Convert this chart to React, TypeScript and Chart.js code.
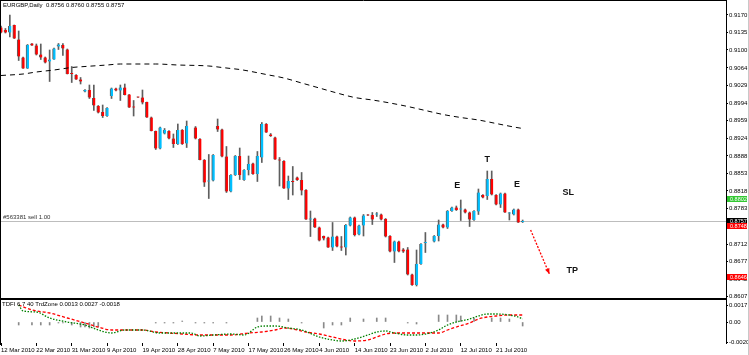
import React, { useEffect, useRef } from 'react';
import { Chart, registerables } from 'chart.js';
Chart.register(...registerables);

const SYMBOL = 'EURGBP,Daily';
const FONT = '"Liberation Sans", Arial, sans-serif';

// Daily candles, index 0 = 12 Mar 2010 (null = no bar drawn)
const OPEN = [
  0.9145, 0.9140, 0.9135, 0.9150, 0.9121, 0.9085, 0.9063, 0.9113, 0.9109, 0.9091,
  0.9085, 0.9077, 0.9081, 0.9107, 0.9110, 0.9101, 0.9053, 0.9050, 0.9041, 0.9017,
  0.9020, 0.9004, 0.8988, 0.8976, 0.8968, 0.9008, 0.9023, 0.9019, 0.9025, 0.9011,
  0.8986, 0.9006, 0.9005, 0.8996, 0.8965, 0.8938, 0.8903, 0.8933, 0.8938, 0.8923,
  0.8912, 0.8940, 0.8913, null, 0.8945, 0.8922, 0.8880, 0.8837, 0.8839, 0.8948,
  0.8941, 0.8887, 0.8817, 0.8850, 0.8888, 0.8840, 0.8860, 0.8873, 0.8852, 0.8885,
  0.8952, 0.8931, 0.8925, 0.8881, 0.8878, 0.8823, 0.8837, 0.8845, 0.8840, 0.8820,
  0.8761, 0.8763, 0.8745, 0.8728, 0.8725, 0.8705, 0.8727, 0.8706, 0.8705, 0.8749,
  0.8765, 0.8731, 0.8749, 0.8770, 0.8770, 0.8771, 0.8771, 0.8762, 0.8728, 0.8697,
  0.8717, 0.8701, 0.8701, 0.8651, 0.8630, 0.8672, 0.8714, null, 0.8717, 0.8728,
  0.8751, 0.8745, 0.8778, 0.8785, 0.8781, 0.8781, 0.8775, 0.8760, 0.8777, 0.8810,
  0.8808, 0.8842, 0.8810, 0.8791, 0.8813, 0.8773, 0.8771, 0.8781, 0.8756,
];
const HIGH = [
  0.9148, 0.9143, 0.9170, 0.9150, 0.9138, 0.9086, 0.9111, 0.9113, 0.9112, 0.9112,
  0.9086, 0.9100, 0.9104, 0.9113, 0.9113, 0.9102, 0.9067, 0.9051, 0.9045, 0.9021,
  0.9030, 0.9030, 0.8989, 0.8990, 0.8985, 0.9024, 0.9024, 0.9030, 0.9032, 0.9011,
  0.8999, 0.9006, 0.9020, 0.8996, 0.8966, 0.8938, 0.8946, 0.8943, 0.8939, 0.8932,
  0.8952, 0.8941, 0.8958, null, 0.8947, 0.8923, 0.8881, 0.8891, 0.8891, 0.8962,
  0.8942, 0.8907, 0.8851, 0.8889, 0.8904, 0.8861, 0.8888, 0.8874, 0.8897, 0.8955,
  0.8953, 0.8933, 0.8926, 0.8885, 0.8879, 0.8848, 0.8867, 0.8846, 0.8855, 0.8821,
  0.8778, 0.8764, 0.8746, 0.8728, 0.8726, 0.8755, 0.8728, 0.8727, 0.8751, 0.8766,
  0.8766, 0.8750, 0.8771, 0.8771, 0.8775, 0.8775, 0.8772, 0.8763, 0.8729, 0.8718,
  0.8718, 0.8703, 0.8705, 0.8652, 0.8700, 0.8713, 0.8735, null, 0.8729, 0.8760,
  0.8752, 0.8779, 0.8786, 0.8788, 0.8800, 0.8782, 0.8776, 0.8779, 0.8822, 0.8811,
  0.8858, 0.8858, 0.8811, 0.8814, 0.8814, 0.8775, 0.8782, 0.8782, 0.8760,
];
const LOW = [
  0.9134, 0.9134, 0.9126, 0.9123, 0.9079, 0.9063, 0.9063, 0.9109, 0.9090, 0.9081,
  0.9074, 0.9037, 0.9081, 0.9101, 0.9089, 0.9052, 0.9035, 0.9041, 0.9032, 0.9016,
  0.9003, 0.8979, 0.8974, 0.8965, 0.8967, 0.9003, 0.9018, 0.8999, 0.9010, 0.8985,
  0.8968, 0.9005, 0.8992, 0.8965, 0.8938, 0.8901, 0.8902, 0.8932, 0.8922, 0.8905,
  0.8911, 0.8911, 0.8905, null, 0.8922, 0.8880, 0.8827, 0.8803, 0.8838, 0.8937,
  0.8886, 0.8815, 0.8816, 0.8849, 0.8841, 0.8839, 0.8850, 0.8851, 0.8837, 0.8875,
  0.8935, 0.8927, 0.8881, 0.8828, 0.8823, 0.8801, 0.8810, 0.8839, 0.8810, 0.8761,
  0.8727, 0.8745, 0.8718, 0.8720, 0.8705, 0.8699, 0.8706, 0.8699, 0.8690, 0.8748,
  0.8728, 0.8730, 0.8728, 0.8769, 0.8751, 0.8767, 0.8760, 0.8726, 0.8696, 0.8675,
  0.8696, 0.8695, 0.8650, 0.8629, 0.8628, 0.8671, 0.8695, null, 0.8716, 0.8718,
  0.8744, 0.8743, 0.8777, 0.8779, 0.8759, 0.8774, 0.8747, 0.8759, 0.8771, 0.8804,
  0.8801, 0.8810, 0.8790, 0.8785, 0.8775, 0.8760, 0.8770, 0.8755, 0.8755,
];
const CLOSE = [
  0.9135, 0.9135, 0.9148, 0.9123, 0.9087, 0.9063, 0.9110, 0.9109, 0.9091, 0.9085,
  0.9075, 0.9081, 0.9103, 0.9111, 0.9103, 0.9052, 0.9052, 0.9041, 0.9037, 0.9020,
  0.9005, 0.8989, 0.8975, 0.8968, 0.8984, 0.9023, 0.9019, 0.9025, 0.9010, 0.8985,
  0.8985, 0.9005, 0.8995, 0.8965, 0.8938, 0.8903, 0.8945, 0.8940, 0.8923, 0.8912,
  0.8940, 0.8912, 0.8948, null, 0.8923, 0.8880, 0.8835, 0.8838, 0.8890, 0.8941,
  0.8887, 0.8817, 0.8850, 0.8888, 0.8850, 0.8860, 0.8872, 0.8852, 0.8888, 0.8952,
  0.8935, 0.8928, 0.8881, 0.8879, 0.8823, 0.8838, 0.8836, 0.8840, 0.8819, 0.8761,
  0.8763, 0.8745, 0.8719, 0.8723, 0.8705, 0.8727, 0.8707, 0.8705, 0.8750, 0.8765,
  0.8730, 0.8749, 0.8769, 0.8769, 0.8761, 0.8772, 0.8761, 0.8727, 0.8697, 0.8717,
  0.8697, 0.8697, 0.8651, 0.8630, 0.8672, 0.8712, 0.8715, null, 0.8728, 0.8751,
  0.8745, 0.8778, 0.8785, 0.8780, 0.8782, 0.8775, 0.8761, 0.8778, 0.8815, 0.8805,
  0.8842, 0.8811, 0.8791, 0.8813, 0.8775, 0.8774, 0.8781, 0.8755, 0.8757,
];

// Moving average (sampled points along the dashed curve)
const MA_IDX = [0, 5, 8, 12, 16, 19, 24, 27, 35, 40, 47, 50, 52, 54, 56, 60, 64, 68, 72, 76, 80, 84, 88, 92, 96, 100, 104, 108, 112, 116, 118];
const MA_VAL = [0.9049, 0.9052, 0.9056, 0.9060, 0.9065, 0.9067, 0.9070, 0.9072, 0.9072, 0.9070, 0.9068, 0.9065, 0.9063, 0.9061, 0.9058, 0.9051, 0.9044, 0.9034, 0.9024, 0.9014, 0.9005, 0.9000, 0.8994, 0.8987, 0.8979, 0.8971, 0.8965, 0.8960, 0.8953, 0.8946, 0.8943];

// Axis
const X_MIN = 0;
const X_MAX = 164;
const Y_MIN = 0.8604;
const Y_MAX = 0.9198;
const PRICE_TICKS = [0.9170, 0.9135, 0.9100, 0.9064, 0.9029, 0.8994, 0.8959, 0.8924, 0.8888, 0.8853, 0.8818, 0.8783, 0.8748, 0.8712, 0.8677, 0.8642, 0.8607];
const DATE_TICK_IDX = [0, 8, 16, 24, 32, 40, 48, 56, 64, 72, 80, 88, 96, 104, 112];
const DATE_LABELS = ['12 Mar 2010', '22 Mar 2010', '31 Mar 2010', '9 Apr 2010', '19 Apr 2010', '28 Apr 2010', '7 May 2010', '17 May 2010', '26 May 2010', '4 Jun 2010', '14 Jun 2010', '23 Jun 2010', '2 Jul 2010', '12 Jul 2010', '21 Jul 2010'];

// Price tags on right axis
const TAG_VALUES = [0.8802, 0.8757, 0.8748, 0.8646];
const TAG_COLORS = ['#32c832', '#000000', '#ff0000', '#ff0000'];
const LINE_LABEL = '#563381 sell 1.00';

// Annotations
const NOTE_TEXT = ['E', 'T', 'E', 'SL', 'TP'];
const NOTE_X = [103.2, 110, 116.7, 128.3, 129.2];
const NOTE_Y = [0.8828, 0.8880, 0.8830, 0.8814, 0.8658];
const ARROW_X = [119.8, 124.05];
const ARROW_Y = [0.8740, 0.8652];

// Indicator
const IND_TITLE = 'TDFI 6 7 40 TrdZone 0.0013 0.0027 -0.0018';
const IND_MIN = -0.0021;
const IND_MAX = 0.0022;
const IND_TICKS = [0.0017, 0, -0.0020];
const IND_TICK_LABELS = ['0.0017', '0.00', '-0.0020'];
const GREEN_IDX = [4, 5, 8, 11, 15, 19, 22, 25, 28, 30, 32, 36, 39, 43, 45, 48, 52, 55, 58, 60, 62, 65, 68, 72, 75, 77, 80, 83, 85, 87, 89, 92, 94, 97, 99, 101, 103, 106, 108, 110, 112, 115, 117, 118];
const GREEN_VAL = [0.0017, 0.0011, 0.0010, 0.0004, 0, -0.0003, -0.0008, -0.0011, -0.0008, -0.0008, -0.0008, -0.0011, -0.0011, -0.0011, -0.0014, -0.0013, -0.0012, -0.0013, -0.0005, -0.0004, -0.0004, -0.0006, -0.0008, -0.0015, -0.0018, -0.0019, -0.0017, -0.0013, -0.0010, -0.0009, -0.0011, -0.0013, -0.0013, -0.0011, -0.0008, -0.0003, 0, 0.0003, 0.0006, 0.0008, 0.0008, 0.0007, 0.0005, 0.0003];
const RED_IDX = [4, 7, 11, 15, 19, 22, 25, 28, 32, 35, 38, 41, 45, 49, 52, 56, 59, 62, 64, 66, 69, 72, 75, 78, 80, 83, 85, 87, 89, 92, 94, 97, 99, 101, 103, 106, 108, 110, 112, 115, 118];
const RED_VAL = [0.0017, 0.0012, 0.0009, 0.0004, -0.0001, -0.0005, -0.0008, -0.0008, -0.0008, -0.0010, -0.0011, -0.0012, -0.0013, -0.0013, -0.0013, -0.0011, -0.0010, -0.0008, -0.0006, -0.0007, -0.0010, -0.0012, -0.0015, -0.0018, -0.0019, -0.0018, -0.0015, -0.0012, -0.0011, -0.0011, -0.0011, -0.0011, -0.0011, -0.0008, -0.0005, -0.0001, 0.0003, 0.0005, 0.0006, 0.0007, 0.0007];
const HIST_IDX = [4, 7, 9, 11, 13, 14, 16, 18, 19, 20, 21, 22, 35, 37, 39, 41, 44, 46, 48, 51, 58, 59, 61, 63, 65, 68, 73, 75, 77, 79, 82, 85, 87, 92, 94, 99, 101, 103, 104, 107, 111, 113, 115, 118];
const HIST_VAL = [-0.0003, -0.0003, -0.0003, -0.0003, -0.0001, -0.0001, -0.0003, -0.0005, -0.0005, -0.0006, -0.0005, -0.0005, -0.0001, -0.0001, -0.0001, 0.0001, -0.0001, -0.0001, -0.0001, -0.0001, 0.0004, 0.0006, 0.0006, 0.0004, 0.0003, -0.0001, -0.0006, -0.0003, -0.0003, 0.0004, 0.0003, 0.0004, 0.0004, -0.0001, -0.0002, 0.0007, 0.0007, 0.0007, 0.0006, 0.0004, 0.0004, 0.0004, 0.0003, -0.0004];

const GREY = '#5e5e5e';
const BULL = '#00bfff';
const BEAR = '#ff0000';

function font(size: number, weight = '') {
  return `${weight ? weight + ' ' : ''}${size}px ${FONT}`;
}

function mainConfig(): any {
  const bodies: any[] = [];
  const wicks: any[] = [];
  const colors: string[] = [];
  OPEN.forEach((o, i) => {
    if (o === null) return;
    const c = CLOSE[i] as number;
    bodies.push({ x: i, y: [o, c] });
    wicks.push({ x: i, y: [LOW[i], HIGH[i]] });
    colors.push(c > o ? BULL : BEAR);
  });
  const last = OPEN.length - 1;
  const bid = CLOSE[last] as number;
  const title = `${SYMBOL}  ${(OPEN[last] as number).toFixed(4)} ${(HIGH[last] as number).toFixed(4)} ${(LOW[last] as number).toFixed(4)} ${bid.toFixed(4)}`;

  const decor = {
    id: 'mainDecor',
    beforeDatasetsDraw(chart: any) {
      const { ctx, chartArea, scales } = chart;
      const y = Math.round(scales.y.getPixelForValue(bid)) + 0.5;
      ctx.save();
      ctx.strokeStyle = '#bdbdbd';
      ctx.lineWidth = 1;
      ctx.beginPath();
      ctx.moveTo(chartArea.left, y);
      ctx.lineTo(chartArea.right, y);
      ctx.stroke();
      ctx.fillStyle = '#333';
      ctx.font = font(6);
      ctx.textBaseline = 'bottom';
      ctx.textAlign = 'left';
      ctx.fillText(LINE_LABEL, chartArea.left + 2, y - 1);
      ctx.restore();
    },
    afterDatasetsDraw(chart: any) {
      const { ctx, scales } = chart;
      const xs = scales.x;
      const ys = scales.y;
      ctx.save();
      ctx.fillStyle = '#111';
      ctx.font = font(9, 'bold');
      ctx.textAlign = 'center';
      ctx.textBaseline = 'middle';
      NOTE_TEXT.forEach((t, k) => {
        ctx.fillText(t, xs.getPixelForValue(NOTE_X[k]), ys.getPixelForValue(NOTE_Y[k]));
      });
      // arrow
      const x1 = xs.getPixelForValue(ARROW_X[0]);
      const y1 = ys.getPixelForValue(ARROW_Y[0]);
      const x2 = xs.getPixelForValue(ARROW_X[1]);
      const y2 = ys.getPixelForValue(ARROW_Y[1]);
      ctx.strokeStyle = '#ff0000';
      ctx.lineWidth = 1.3;
      ctx.setLineDash([2, 1.5]);
      ctx.beginPath();
      ctx.moveTo(x1, y1);
      ctx.lineTo(x2, y2);
      ctx.stroke();
      ctx.setLineDash([]);
      const ang = Math.atan2(y2 - y1, x2 - x1);
      const L = 6;
      ctx.fillStyle = '#ff0000';
      ctx.beginPath();
      ctx.moveTo(x2, y2);
      ctx.lineTo(x2 - L * Math.cos(ang - 0.4), y2 - L * Math.sin(ang - 0.4));
      ctx.lineTo(x2 - L * Math.cos(ang + 0.4), y2 - L * Math.sin(ang + 0.4));
      ctx.closePath();
      ctx.fill();
      ctx.restore();
    },
    afterDraw(chart: any) {
      const { ctx, chartArea, scales, width, height } = chart;
      ctx.save();
      ctx.strokeStyle = '#000';
      ctx.lineWidth = 1;
      ctx.beginPath();
      ctx.moveTo(0.5, 0);
      ctx.lineTo(0.5, chartArea.bottom);
      ctx.moveTo(0, 0.5);
      ctx.lineTo(chartArea.right + 1, 0.5);
      ctx.stroke();
      ctx.fillStyle = '#000';
      ctx.fillRect(0, chartArea.bottom, chartArea.right + 1, 2);
      ctx.strokeStyle = '#c8c8c8';
      ctx.beginPath();
      ctx.moveTo(width - 0.5, 0);
      ctx.lineTo(width - 0.5, height);
      ctx.stroke();
      // title
      ctx.fillStyle = '#000';
      ctx.font = font(6);
      ctx.textAlign = 'left';
      ctx.textBaseline = 'middle';
      ctx.fillText(title, 3, 5);
      // price tags
      TAG_VALUES.forEach((v, k) => {
        const y = Math.round(scales.y.getPixelForValue(v));
        ctx.fillStyle = TAG_COLORS[k];
        ctx.fillRect(chartArea.right + 1, y - 3, width - chartArea.right - 3, 6);
        ctx.fillStyle = '#fff';
        ctx.font = font(5.5);
        ctx.textBaseline = 'middle';
        ctx.fillText(v.toFixed(4), chartArea.right + 4, y + 0.5);
      });
      ctx.restore();
    },
  };

  return {
    type: 'bar',
    data: {
      datasets: [
        {
          type: 'line',
          label: 'MA',
          data: MA_IDX.map((x, k) => ({ x, y: MA_VAL[k] })),
          borderColor: '#000',
          borderWidth: 1,
          borderDash: [5, 4],
          pointRadius: 0,
          cubicInterpolationMode: 'monotone',
          order: 0,
        },
        {
          type: 'bar',
          label: 'body',
          data: bodies,
          backgroundColor: colors,
          borderColor: GREY,
          borderWidth: { left: 1, right: 0, top: 0, bottom: 0 },
          borderSkipped: false,
          barThickness: 3,
          minBarLength: 1,
          grouped: false,
          order: 1,
        },
        {
          type: 'bar',
          label: 'wick',
          data: wicks,
          backgroundColor: GREY,
          barThickness: 1,
          grouped: false,
          order: 2,
        },
      ],
    },
    options: {
      responsive: false,
      animation: false,
      devicePixelRatio: 1,
      layout: { padding: { left: 1, top: 1, right: 0, bottom: 2 } },
      plugins: { legend: { display: false }, tooltip: { enabled: false } },
      scales: {
        x: { type: 'linear', min: X_MIN, max: X_MAX, offset: false, grid: { offset: false }, display: false },
        y: {
          position: 'right',
          min: Y_MIN,
          max: Y_MAX,
          afterBuildTicks: (s: any) => {
            s.ticks = PRICE_TICKS.map((v) => ({ value: v }));
          },
          afterFit: (s: any) => {
            s.width = 23;
            s.paddingTop = 0;
            s.paddingBottom = 0;
          },
          ticks: {
            font: { size: 6, family: FONT },
            color: '#000',
            padding: 1,
            crossAlign: 'near',
            callback: (v: number) => v.toFixed(4),
          },
          grid: { drawOnChartArea: false, drawTicks: true, tickLength: 2, color: '#000' },
          border: { display: true, color: '#000', width: 1 },
        },
      },
    },
    plugins: [decor],
  };
}

function sparse(idx: number[], val: number[]) {
  return idx.map((x, k) => ({ x, y: val[k] }));
}

function indConfig(): any {
  const decor = {
    id: 'indDecor',
    afterDraw(chart: any) {
      const { ctx, chartArea, width, height } = chart;
      ctx.save();
      ctx.strokeStyle = '#000';
      ctx.lineWidth = 1;
      ctx.beginPath();
      ctx.moveTo(0.5, 0);
      ctx.lineTo(0.5, chartArea.bottom + 2);
      ctx.stroke();
      ctx.strokeStyle = '#c8c8c8';
      ctx.beginPath();
      ctx.moveTo(width - 0.5, 0);
      ctx.lineTo(width - 0.5, height);
      ctx.stroke();
      ctx.fillStyle = '#000';
      ctx.font = font(6);
      ctx.textAlign = 'left';
      ctx.textBaseline = 'middle';
      ctx.fillText(IND_TITLE, 2, 4.5);
      ctx.restore();
    },
  };
  return {
    type: 'bar',
    data: {
      datasets: [
        {
          type: 'line',
          label: 'green',
          data: sparse(GREEN_IDX, GREEN_VAL),
          borderColor: '#008000',
          borderWidth: 1.3,
          borderDash: [1.5, 1.5],
          pointRadius: 0,
          cubicInterpolationMode: 'monotone',
          order: 0,
        },
        {
          type: 'line',
          label: 'red',
          data: sparse(RED_IDX, RED_VAL),
          borderColor: '#ff0000',
          borderWidth: 1.3,
          borderDash: [3, 2],
          pointRadius: 0,
          cubicInterpolationMode: 'monotone',
          order: 1,
        },
        {
          type: 'bar',
          label: 'hist',
          data: sparse(HIST_IDX, HIST_VAL),
          backgroundColor: '#8a8a8a',
          barThickness: 1,
          grouped: false,
          order: 2,
        },
      ],
    },
    options: {
      responsive: false,
      animation: false,
      devicePixelRatio: 1,
      layout: { padding: { left: 1, top: 0, right: 0, bottom: 0 } },
      plugins: { legend: { display: false }, tooltip: { enabled: false } },
      scales: {
        x: {
          type: 'linear',
          min: X_MIN,
          max: X_MAX,
          offset: false,
          afterBuildTicks: (s: any) => {
            s.ticks = DATE_TICK_IDX.map((v) => ({ value: v }));
          },
          afterFit: (s: any) => {
            s.height = 12;
            s.paddingLeft = 0;
            s.paddingRight = 0;
          },
          ticks: {
            autoSkip: false,
            maxRotation: 0,
            align: 'start',
            padding: 1,
            font: { size: 6, family: FONT },
            color: '#000',
            callback: (_v: number, i: number) => DATE_LABELS[i],
          },
          grid: { offset: false, drawOnChartArea: false, drawTicks: true, tickLength: 3, color: '#000' },
          border: { display: false },
        },
        y: {
          position: 'right',
          min: IND_MIN,
          max: IND_MAX,
          afterBuildTicks: (s: any) => {
            s.ticks = IND_TICKS.map((v) => ({ value: v }));
          },
          afterFit: (s: any) => {
            s.width = 23;
            s.paddingTop = 0;
            s.paddingBottom = 0;
          },
          ticks: {
            font: { size: 6, family: FONT },
            color: '#000',
            padding: 1,
            crossAlign: 'near',
            callback: (_v: number, i: number) => IND_TICK_LABELS[i],
          },
          grid: { drawOnChartArea: false, drawTicks: true, tickLength: 2, color: '#000' },
          border: { display: true, color: '#000', width: 1 },
        },
      },
    },
    plugins: [decor],
  };
}

export default function App() {
  const mainRef = useRef<HTMLCanvasElement>(null);
  const indRef = useRef<HTMLCanvasElement>(null);
  useEffect(() => {
    document.body.style.margin = '0';
    document.body.style.background = '#fff';
    const c1 = new Chart(mainRef.current as HTMLCanvasElement, mainConfig());
    const c2 = new Chart(indRef.current as HTMLCanvasElement, indConfig());
    return () => {
      c1.destroy();
      c2.destroy();
    };
  }, []);
  return (
    <div style={{ width: 749, height: 355, position: 'relative', background: '#fff' }}>
      <canvas ref={mainRef} width={749} height={300} style={{ display: 'block', width: 749, height: 300 }} />
      <canvas ref={indRef} width={749} height={55} style={{ display: 'block', width: 749, height: 55 }} />
    </div>
  );
}
